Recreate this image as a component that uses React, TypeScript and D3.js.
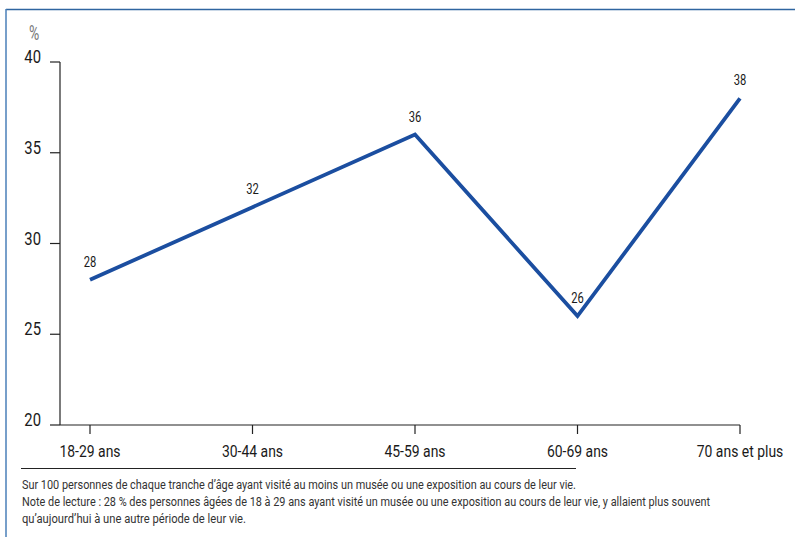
import React from "react";
import * as d3 from "d3";

const categories = ["18-29 ans", "30-44 ans", "45-59 ans", "60-69 ans", "70 ans et plus"];
const values = [28, 32, 36, 26, 38];
const yTicks = [20, 25, 30, 35, 40];
const footnotes = [
  "Sur 100 personnes de chaque tranche d’âge ayant visité au moins un musée ou une exposition au cours de leur vie.",
  "Note de lecture : 28 % des personnes âgées de 18 à 29 ans ayant visité un musée ou une exposition au cours de leur vie, y allaient plus souvent",
  "qu’aujourd’hui à une autre période de leur vie.",
];

const FONT = "Roboto, 'Noto Sans', sans-serif";
const footWidths = [554, 688, 224];

function NText({ x, y, anchor = "start", size, fill = "#1a1a1a", sx = 0.84, children }: any) {
  return (
    <g transform={`translate(${x},${y}) scale(${sx},1)`}>
      <text x={0} y={0} textAnchor={anchor} fontSize={size} fill={fill}>{children}</text>
    </g>
  );
}

export default function App() {
  const W = 795, H = 537;
  const x = d3.scalePoint<string>().domain(categories).range([90, 740]);
  const y = d3.scaleLinear().domain([20, 40]).range([425, 62]);
  const line = d3.line<number>().x((_, i) => x(categories[i])!).y((d) => y(d));
  return (
    <svg width={W} height={H} style={{ position: "absolute", left: 0, top: 0 }} fontFamily={FONT}>
      <rect x={0} y={0} width={W} height={H} fill="#fff" />
      <line x1={6} y1={9.5} x2={W} y2={9.5} stroke="#2f65a0" strokeWidth={1.5} />
      <line x1={6} y1={9} x2={6} y2={H} stroke="#4a7fb8" strokeWidth={1.5} />
      <NText x={34} y={40} size={20} fill="#777" anchor="middle" sx={0.7}>%</NText>
      {/* y axis */}
      <line x1={60} y1={y(40)} x2={60} y2={y(20)} stroke="#222" strokeWidth={1.2} />
      {yTicks.map((t) => (
        <g key={t}>
          <line x1={50} x2={60} y1={y(t)} y2={y(t)} stroke="#222" strokeWidth={1.2} />
          <NText x={41} y={y(t) + 1} anchor="end" size={18.5} sx={0.8}>{t}</NText>
        </g>
      ))}
      {/* x axis */}
      <line x1={60} y1={y(20)} x2={740} y2={y(20)} stroke="#222" strokeWidth={1.2} />
      {categories.map((c) => (
        <g key={c}>
          <line x1={x(c)} x2={x(c)} y1={y(20)} y2={y(20) + 9} stroke="#222" strokeWidth={1.2} />
          <NText x={x(c)} y={457} anchor="middle" size={17} sx={0.82}>{c}</NText>
        </g>
      ))}
      <path d={line(values)!} fill="none" stroke="#1b4ea0" strokeWidth={3.8} strokeLinejoin="miter" />
      {values.map((v, i) => (
        <NText key={i} x={x(categories[i])} y={y(v) - 13} anchor="middle" size={14} sx={0.8}>{v}</NText>
      ))}
      <line x1={21} x2={576} y1={468.5} y2={468.5} stroke="#222" strokeWidth={1} />
      {footnotes.map((f, i) => (
        <text key={i} x={22} y={489 + i * 17} fontSize={12} fill="#333" textLength={footWidths[i]} lengthAdjust="spacingAndGlyphs">{f}</text>
      ))}
    </svg>
  );
}
